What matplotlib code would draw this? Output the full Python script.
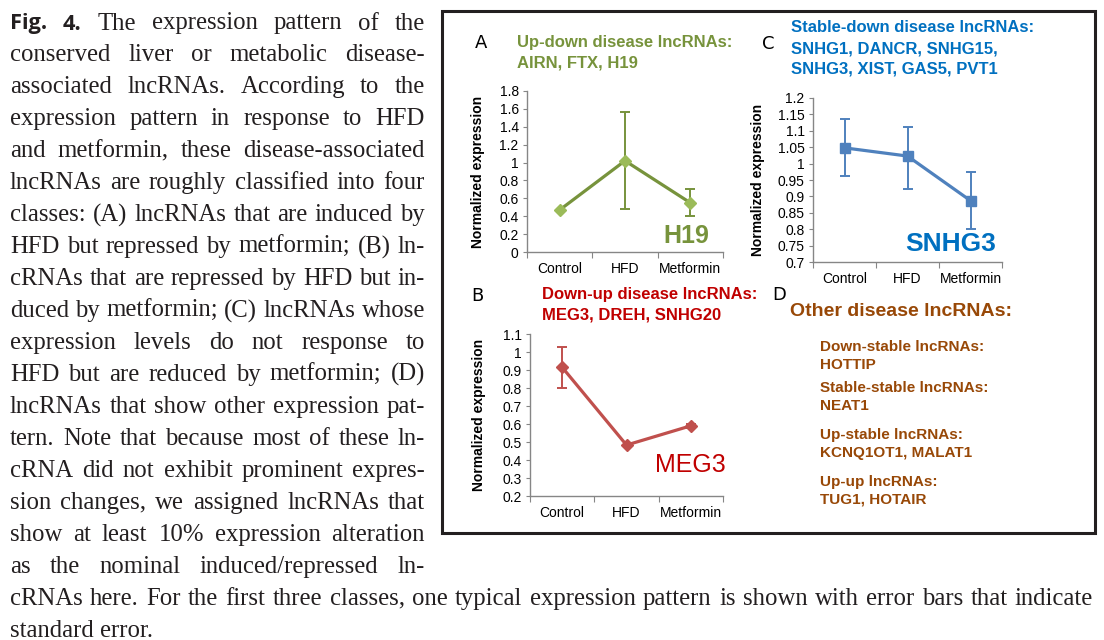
import matplotlib
matplotlib.use('Agg')
import matplotlib.pyplot as plt
from matplotlib.patches import Rectangle
from matplotlib.font_manager import FontProperties
from matplotlib.ticker import MultipleLocator, FuncFormatter

W, H = 1104, 640

# data
categories = ['Control', 'HFD', 'Metformin']

h19_mean = [0.47, 1.02, 0.55]
h19_err = [0.0, 0.54, 0.15]

meg3_mean = [0.915, 0.483, 0.59]
meg3_err = [0.113, 0.0, 0.01]

snhg3_mean = [1.048, 1.023, 0.887]
snhg3_err_low = [0.086, 0.10, 0.087]
snhg3_err_high = [0.089, 0.09, 0.088]

caption_lines = [
    "Fig. 4. The expression pattern of the",
    "conserved liver or metabolic disease-",
    "associated lncRNAs. According to the",
    "expression pattern in response to HFD",
    "and metformin, these disease-associated",
    "lncRNAs are roughly classified into four",
    "classes: (A) lncRNAs that are induced by",
    "HFD but repressed by metformin; (B) ln-",
    "cRNAs that are repressed by HFD but in-",
    "duced by metformin; (C) lncRNAs whose",
    "expression levels do not response to",
    "HFD but are reduced by metformin; (D)",
    "lncRNAs that show other expression pat-",
    "tern. Note that because most of these ln-",
    "cRNA did not exhibit prominent expres-",
    "sion changes, we assigned lncRNAs that",
    "show at least 10% expression alteration",
    "as the nominal induced/repressed ln-",
    "cRNAs here. For the first three classes, one typical expression pattern is shown with error bars that indicate",
    "standard error.",
]

other_classes = [
    ("Down-stable lncRNAs:", "HOTTIP"),
    ("Stable-stable lncRNAs:", "NEAT1"),
    ("Up-stable lncRNAs:", "KCNQ1OT1, MALAT1"),
    ("Up-up lncRNAs:", "TUG1, HOTAIR"),
]

plt.rcParams['font.family'] = ['Liberation Sans', 'DejaVu Sans']

fig = plt.figure(figsize=(W / 100, H / 100), dpi=100)
fig.patch.set_facecolor('white')


def ftext(x, y, s, **kw):
    # place text using pixel coordinates (origin top-left)
    return fig.text(x / W, 1 - y / H, s, **kw)


def panel(box, mean, err, ylim, step, lcol, mcol, marker, ms, ylab_x):
    left, top, right, bottom = box
    ax = fig.add_axes([left / W, 1 - bottom / H, (right - left) / W, (bottom - top) / H])
    x = list(range(len(categories)))
    ax.errorbar(x, mean, yerr=err, color=lcol, lw=2.3, marker=marker, ms=ms,
                mfc=mcol, mec=mcol, ecolor=lcol, elinewidth=1.4, capsize=3.5,
                capthick=1.4, clip_on=False, zorder=3)
    ax.set_xlim(-0.5, 2.5)
    ax.set_ylim(*ylim)
    for s in ['top', 'right']:
        ax.spines[s].set_visible(False)
    for s in ['left', 'bottom']:
        ax.spines[s].set_color('#868686')
        ax.spines[s].set_linewidth(1.0)
    ax.yaxis.set_major_locator(MultipleLocator(step))
    ax.yaxis.set_major_formatter(FuncFormatter(lambda v, p: f"{round(v, 3):g}"))
    ax.tick_params(axis='y', direction='out', length=3, color='#868686',
                   labelsize=10, pad=3, labelcolor='black')
    ax.set_xticks([-0.5, 0.5, 1.5, 2.5])
    ax.set_xticklabels([])
    ax.set_xticks(x, minor=True)
    ax.set_xticklabels(categories, minor=True)
    ax.tick_params(axis='x', which='major', direction='out', length=4, color='#868686')
    ax.tick_params(axis='x', which='minor', length=0, pad=7, labelsize=10)
    ax.set_ylabel('Normalized expression', fontsize=10, fontweight='bold')
    ax.yaxis.set_label_coords((ylab_x - left) / (right - left), 0.5)
    ax.patch.set_alpha(0)
    return ax


# frame around the panels
fig.add_artist(Rectangle((442 / W, 1 - 533 / H), (1095 - 442) / W, (533 - 11) / H,
                         transform=fig.transFigure, fill=False, lw=2.2,
                         edgecolor='#231F20'))

# panel A
green, green_m = '#77933C', '#9BBB59'
panel((527, 91, 723, 252), h19_mean, h19_err, (0, 1.8), 0.2, green, green_m, 'D', 6.5, 485)
ftext(475, 43, 'A', fontsize=13, family='DejaVu Sans', va='center')
ftext(517, 43, 'Up-down disease lncRNAs:', fontsize=12, fontweight='bold', color=green, va='center')
ftext(517, 63, 'AIRN, FTX, H19', fontsize=12, fontweight='bold', color=green, va='center')
ftext(686, 236, 'H19', fontsize=18, fontweight='bold', color=green, ha='center', va='center')

# panel B
red, red_l = '#C00000', '#C0504D'
panel((530, 334, 723, 496), meg3_mean, meg3_err, (0.2, 1.1), 0.1, red_l, red_l, 'D', 6, 486)
ftext(471, 296, 'B', fontsize=13, family='DejaVu Sans', va='center')
ftext(542, 295, 'Down-up disease lncRNAs:', fontsize=12, fontweight='bold', color=red, va='center')
ftext(542, 315, 'MEG3, DREH, SNHG20', fontsize=12, fontweight='bold', color=red, va='center')
ftext(690, 465, 'MEG3', fontsize=18, color=red, ha='center', va='center')

# panel C
blue, blue_l = '#0070C0', '#4F81BD'
panel((813, 98, 1002, 262), snhg3_mean, [snhg3_err_low, snhg3_err_high], (0.7, 1.2), 0.05,
      blue_l, blue_l, 's', 7.5, 765)
ftext(762, 44, 'C', fontsize=13, family='DejaVu Sans', va='center')
for i, s in enumerate(['Stable-down disease lncRNAs:', 'SNHG1, DANCR, SNHG15,',
                       'SNHG3, XIST, GAS5, PVT1']):
    ftext(791, 28 + 20.5 * i, s, fontsize=12, fontweight='bold', color=blue, va='center')
ftext(951, 244, 'SNHG3', fontsize=19, fontweight='bold', color=blue, ha='center', va='center')

# panel D
brown = '#984807'
ftext(772, 295, 'D', fontsize=13, family='DejaVu Sans', va='center')
ftext(790, 312, 'Other disease lncRNAs:', fontsize=14, fontweight='bold', color=brown, va='center')
ys = [347, 388, 435, 482]
for (head, names), y in zip(other_classes, ys):
    ftext(820, y, head, fontsize=11, fontweight='bold', color=brown, va='center')
    ftext(820, y + 18, names, fontsize=11, fontweight='bold', color=brown, va='center')

# caption, justified like the printed column
renderer = fig.canvas.get_renderer()
serif = 'Liberation Serif'
cap_color = '#231F20'
base_fs = 20


def word_props(line_idx, word_idx, fs):
    if line_idx == 0 and word_idx < 2:
        return FontProperties(family='Open Sans', weight='bold', size=fs * 0.88)
    return FontProperties(family=serif, size=fs)


def natural_width(li, words, fs):
    total = 0
    for wi, w in enumerate(words):
        total += renderer.get_text_width_height_descent(w, word_props(li, wi, fs), ismath=False)[0]
    sp = renderer.get_text_width_height_descent(' ', FontProperties(family=serif, size=fs), ismath=False)[0]
    return total + sp * (len(words) - 1)


x_left = 10
targets = [425] * 18 + [1093, None]
ratio = 1.0
for li, line in enumerate(caption_lines):
    if targets[li] is None:
        continue
    nw = natural_width(li, line.split(' '), base_fs)
    ratio = min(ratio, (targets[li] - x_left) / nw)
fs = base_fs * ratio

for li, line in enumerate(caption_lines):
    words = line.split(' ')
    widths = [renderer.get_text_width_height_descent(w, word_props(li, wi, fs), ismath=False)[0]
              for wi, w in enumerate(words)]
    y = 29.5 + 31.96 * li
    if targets[li] is None or len(words) == 1:
        gap = renderer.get_text_width_height_descent(' ', FontProperties(family=serif, size=fs),
                                                     ismath=False)[0]
    else:
        gap = (targets[li] - x_left - sum(widths)) / (len(words) - 1)
    x = x_left
    for wi, w in enumerate(words):
        ftext(x, y, w, fontproperties=word_props(li, wi, fs), color=cap_color, va='baseline')
        x += widths[wi] + gap

fig.savefig('out.png', dpi=100)
